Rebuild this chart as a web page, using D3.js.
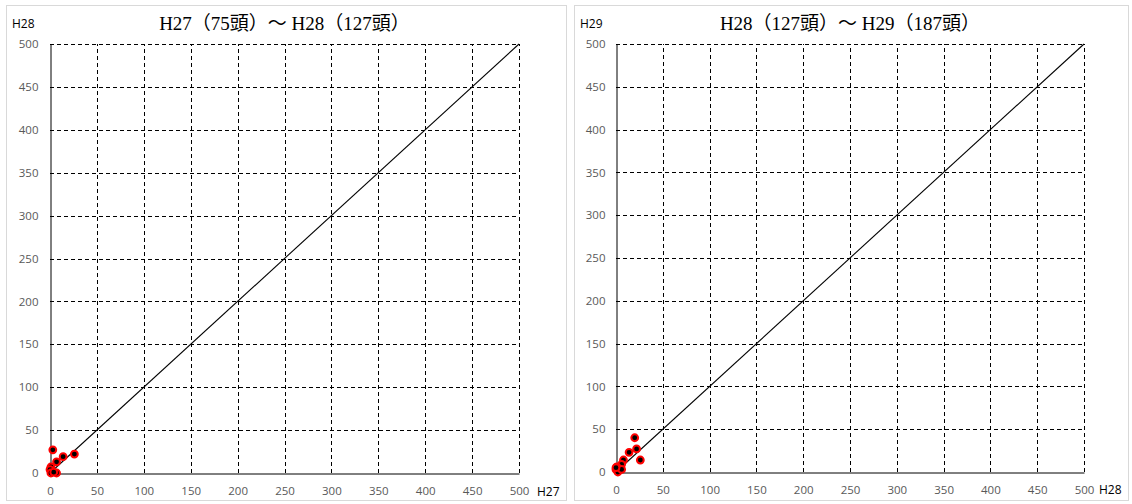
<!DOCTYPE html>
<html>
<head>
<meta charset="utf-8">
<script src="https://cdn.jsdelivr.net/npm/d3@7"></script>
<style>
  html, body { margin: 0; padding: 0; background: #fff; }
  svg { display: block; }
</style>
</head>
<body>
<svg id="chart" width="1132" height="504"></svg>
<script>
// ---- data ----
const tickValues = [0, 50, 100, 150, 200, 250, 300, 350, 400, 450, 500];

const titleLeft = "H27（75頭）～ H28（127頭）";
const xLabelLeft = "H27";
const yLabelLeft = "H28";
const leftX = [3, 14, 26, 7, 1, 0, 1, 7, 4];
const leftY = [27, 19, 22, 13, 7, 4, 0, 0, 1];

const titleRight = "H28（127頭）～ H29（187頭）";
const xLabelRight = "H28";
const yLabelRight = "H29";
const rightX = [20, 22, 14, 26, 8, 6, 1, 0, 2, 6, 0];
const rightY = [40, 27, 23, 14, 14, 9, 6, 3, 0, 3, 5];

const diagonal = [[0, 0], [500, 500]];

// ---- drawing ----
const svg = d3.select("#chart");
const numFont = "'Open Sans', 'Noto Sans', sans-serif";
const titleFont = "'Liberation Serif', 'DejaVu Serif', 'Noto Sans CJK JP', serif";

function panel(cfg) {
  const g = svg.append("g");
  g.append("rect")
    .attr("x", cfg.box[0] + 0.5).attr("y", cfg.box[1] + 0.5)
    .attr("width", cfg.box[2] - cfg.box[0]).attr("height", cfg.box[3] - cfg.box[1])
    .attr("fill", "#fff").attr("stroke", "#d9d9d9").attr("stroke-width", 1);

  const x = d3.scaleLinear().domain([0, 500]).range([cfg.plot[0], cfg.plot[2]]);
  const y = d3.scaleLinear().domain([0, 500]).range([cfg.plot[3], cfg.plot[1]]);

  // grid
  const grid = g.append("g").attr("stroke", "#000").attr("stroke-width", 1)
    .attr("stroke-dasharray", "4,3").attr("fill", "none");
  grid.selectAll("line.v").data(tickValues.slice(1)).join("line")
    .attr("x1", d => Math.round(x(d)) + 0.5).attr("x2", d => Math.round(x(d)) + 0.5)
    .attr("y1", y(0)).attr("y2", y(500));
  grid.selectAll("line.h").data(tickValues.slice(1)).join("line")
    .attr("y1", d => Math.round(y(d)) + 0.5).attr("y2", d => Math.round(y(d)) + 0.5)
    .attr("x1", x(0)).attr("x2", x(500));

  // axes (solid)
  const xAxis = d3.axisBottom(x).tickValues(tickValues).tickSize(0).tickPadding(cfg.xPad);
  const yAxis = d3.axisLeft(y).tickValues(tickValues).tickSize(0).tickPadding(cfg.yPad);
  const gx = g.append("g").attr("transform", `translate(0,${Math.round(y(0)) + 0.5})`).call(xAxis);
  const gy = g.append("g").attr("transform", `translate(${Math.round(x(0)) + 0.5},0)`).call(yAxis);
  [gx, gy].forEach(a => {
    a.select(".domain").attr("stroke", "#000").attr("stroke-width", 1);
    a.selectAll("text").attr("fill", "#595959").style("font-family", numFont).style("font-size", "11.5px");
  });

  // diagonal
  g.append("path")
    .attr("d", d3.line().x(d => x(d[0])).y(d => y(d[1]))(diagonal))
    .attr("stroke", "#000").attr("stroke-width", 1.1).attr("fill", "none");

  // points
  const pts = cfg.xs.map((v, i) => [v, cfg.ys[i]]);
  g.selectAll("circle.pt").data(pts).join("circle")
    .attr("cx", d => x(d[0])).attr("cy", d => y(d[1])).attr("r", 3.4)
    .attr("fill", "#000").attr("stroke", "#ff0000").attr("stroke-width", 2);

  // title
  g.append("text").attr("x", (cfg.plot[0] + cfg.plot[2]) / 2).attr("y", 30)
    .attr("text-anchor", "middle").style("font-family", titleFont).style("font-size", "19px")
    .attr("fill", "#000").text(cfg.title);

  // axis titles
  g.append("text").attr("x", cfg.yLab[0]).attr("y", cfg.yLab[1])
    .style("font-family", numFont).style("font-size", "12px")
    .attr("fill", "#000").text(cfg.yLabel);
  g.append("text").attr("x", cfg.xLab[0]).attr("y", cfg.xLab[1])
    .style("font-family", numFont).style("font-size", "12px")
    .attr("fill", "#000").text(cfg.xLabel);
}

panel({
  box: [6, 5, 566, 500],
  plot: [50, 44, 519, 473],
  xs: leftX, ys: leftY,
  title: titleLeft, xLabel: xLabelLeft, yLabel: yLabelLeft,
  xPad: 13, yPad: 12,
  yLab: [12, 28], xLab: [537, 496]
});

panel({
  box: [574, 5, 1128, 500],
  plot: [616, 44, 1084, 472],
  xs: rightX, ys: rightY,
  title: titleRight, xLabel: xLabelRight, yLabel: yLabelRight,
  xPad: 13, yPad: 11,
  yLab: [580, 28], xLab: [1099, 494]
});
</script>
</body>
</html>
